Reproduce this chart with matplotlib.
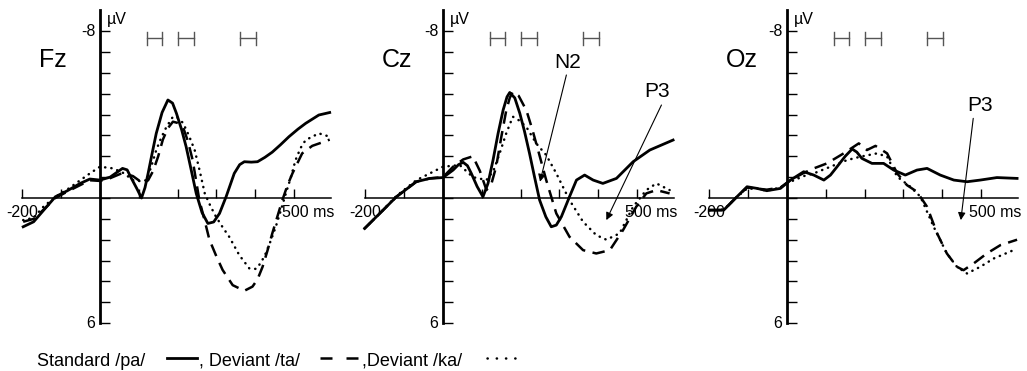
import matplotlib.pyplot as plt
from matplotlib.lines import Line2D

plt.rcParams['font.family'] = ['Liberation Sans', 'DejaVu Sans']

# ---- data (time in ms, amplitude in uV, negative up) ----
fz_std_t = [-198, -171, -145, -115, -85, -51, -26, 0, 26, 45, 58, 70, 81, 95, 107, 116, 124, 135, 145, 160,
            175, 187, 197, 210, 222, 235, 248, 263, 278, 293, 308, 325, 346, 360, 372, 390, 406, 425, 444,
            465, 487, 510, 530, 564, 592]
fz_std_v = [1.38, 1.14, 0.58, -0.06, -0.34, -0.70, -0.91, -0.86, -1.0, -1.25, -1.42, -1.35, -0.94, -0.45, 0.0,
            -0.5, -1.18, -2.2, -3.1, -4.1, -4.7, -4.55, -4.06, -3.3, -2.46, -1.35, -0.22, 0.7, 1.22, 1.15, 0.74,
            -0.06, -1.18, -1.6, -1.74, -1.72, -1.74, -1.95, -2.2, -2.55, -2.94, -3.3, -3.58, -3.98, -4.1]
fz_ta_t = [-198, -171, -145, -115, -85, -51, -26, 0, 26, 58, 85, 111, 124, 137, 150, 162, 175, 188, 200, 214,
           227, 239, 256, 270, 282, 300, 316, 342, 372, 393, 406, 419, 432, 444, 457, 470, 483, 496, 521, 547,
           570, 592]
fz_ta_v = [1.14, 1.0, 0.55, 0.0, -0.3, -0.62, -0.85, -0.82, -0.95, -1.2, -1.05, -0.7, -0.85, -1.3, -2.0, -2.8,
           -3.35, -3.66, -3.6, -3.4, -2.7, -1.8, 0.1, 1.1, 2.0, 2.8, 3.45, 4.18, 4.45, 4.25, 3.9, 3.3, 2.5, 1.7,
           0.9, 0.1, -0.6, -1.18, -2.14, -2.5, -2.65, -2.8]
fz_ka_t = [-198, -171, -145, -115, -85, -51, -26, 0, 34, 60, 85, 107, 120, 132, 145, 158, 171, 188, 200, 214,
           229, 244, 257, 270, 285, 299, 316, 333, 359, 385, 402, 415, 427, 440, 453, 466, 479, 492, 504, 517,
           530, 564, 592]
fz_ka_v = [1.06, 0.95, 0.4, -0.05, -0.4, -0.85, -1.18, -1.5, -1.42, -1.2, -0.86, -0.8, -0.86, -1.5, -2.3, -2.9,
           -3.4, -3.9, -3.85, -3.6, -3.0, -2.3, -1.3, -0.22, 0.4, 0.9, 1.4, 1.86, 2.74, 3.38, 3.4, 3.1, 2.66,
           2.05, 1.38, 0.6, -0.22, -1.0, -1.82, -2.4, -2.78, -3.1, -2.94]

cz_std_t = [-202, -163, -120, -69, -34, 0, 26, 40, 52, 63, 73, 88, 103, 116, 129, 142, 155, 165, 172, 185, 198,
            210, 223, 236, 249, 265, 279, 292, 305, 316, 326, 344, 365, 387, 412, 447, 490, 533, 593]
cz_std_v = [1.46, 0.74, -0.06, -0.78, -0.94, -0.98, -1.34, -1.6, -1.71, -1.55, -1.18, -0.55, -0.06, -0.7, -1.82,
            -3.1, -4.22, -4.85, -5.06, -4.8, -4.06, -3.2, -2.14, -1.0, 0.1, 0.9, 1.38, 1.3, 0.9, 0.4, -0.06,
            -0.86, -1.1, -0.86, -0.7, -0.94, -1.74, -2.3, -2.78]
cz_ta_t = [-202, -163, -120, -69, -34, 0, 26, 52, 77, 95, 112, 125, 137, 150, 163, 172, 180, 195, 215, 230, 245,
           266, 292, 326, 361, 395, 430, 464, 498, 524, 550, 584]
cz_ta_v = [1.46, 0.74, -0.06, -0.78, -0.94, -1.0, -1.5, -1.85, -2.0, -1.3, -0.38, -0.7, -1.5, -2.9, -4.2, -4.8,
           -5.1, -4.9, -4.2, -3.3, -2.3, -0.86, 0.74, 1.86, 2.5, 2.66, 2.5, 1.54, 0.42, -0.22, -0.38, -0.22]
cz_ka_t = [-202, -163, -120, -69, -34, 0, 43, 77, 112, 130, 146, 163, 180, 198, 215, 241, 266, 292, 310, 326,
           361, 395, 421, 455, 490, 524, 550, 584]
cz_ka_v = [1.46, 0.74, -0.1, -0.85, -1.18, -1.5, -1.58, -1.0, -0.86, -1.3, -2.14, -3.1, -3.9, -3.7, -3.4, -2.6,
           -2.06, -1.18, -0.5, 0.1, 1.14, 1.78, 2.0, 1.7, 0.42, -0.38, -0.7, -0.38]

oz_std_t = [-200, -163, -129, -103, -77, -52, -17, 9, 43, 69, 95, 112, 129, 150, 168, 180, 193, 219, 249, 275,
            305, 335, 361, 395, 430, 464, 498, 541, 593]
oz_std_v = [0.58, 0.58, -0.06, -0.54, -0.46, -0.35, -0.46, -0.86, -1.26, -1.1, -0.86, -1.1, -1.5, -2.0, -2.35,
            -2.2, -1.9, -1.66, -1.66, -1.34, -1.1, -1.34, -1.42, -1.1, -0.86, -0.78, -0.86, -0.98, -0.94]
oz_ta_t = [-200, -163, -129, -103, -77, -52, -17, 9, 43, 69, 103, 146, 185, 206, 228, 258, 284, 309, 335, 361,
           387, 412, 438, 455, 481, 515, 550, 593]
oz_ta_v = [0.58, 0.58, -0.06, -0.5, -0.45, -0.4, -0.5, -0.86, -1.2, -1.42, -1.66, -2.14, -2.62, -2.3, -2.5,
           -2.14, -1.18, -0.62, -0.3, 0.42, 1.7, 2.66, 3.3, 3.46, 3.14, 2.66, 2.26, 2.0]
oz_ka_t = [-200, -163, -129, -103, -77, -52, -17, 9, 43, 69, 112, 155, 189, 232, 258, 284, 318, 344, 378, 412,
           438, 464, 498, 533, 584]
oz_ka_v = [0.6, 0.55, -0.05, -0.45, -0.45, -0.35, -0.5, -0.78, -1.05, -1.18, -1.5, -1.82, -1.98, -2.14, -1.98,
           -1.02, -0.54, -0.06, 1.38, 2.66, 3.3, 3.62, 3.3, 2.9, 2.5]

electrodes = ['Fz', 'Cz', 'Oz']
sig_windows = [(120, 160), (200, 242), (360, 402)]
x_ticks = [-200, -100, 0, 100, 200, 300, 400, 500]
y_ticks = list(range(-8, 7))

W, H = 1027, 371
fig = plt.figure(figsize=(W / 100, H / 100), dpi=100)

ms_px = 0.388
zero_px = [100, 443, 787]
xlim = (-250, 610)
ylim = (6.81, -9.496)

panels = [
    (fz_std_t, fz_std_v, fz_ta_t, fz_ta_v, fz_ka_t, fz_ka_v),
    (cz_std_t, cz_std_v, cz_ta_t, cz_ta_v, cz_ka_t, cz_ka_v),
    (oz_std_t, oz_std_v, oz_ta_t, oz_ta_v, oz_ka_t, oz_ka_v),
]

dot_style = dict(color='black', lw=1.8, dashes=(0.1, 2.4), dash_capstyle='round')
dash_style = dict(color='black', lw=1.8, dashes=(5, 3))

axes = []
for name, zp, d in zip(electrodes, zero_px, panels):
    left = (zp + xlim[0] * ms_px) / W
    width = (xlim[1] - xlim[0]) * ms_px / W
    ax = fig.add_axes([left, 1 - 340 / H, width, 340 / H])
    ax.set_xlim(*xlim)
    ax.set_ylim(*ylim)
    ax.patch.set_alpha(0)
    axes.append(ax)

    st, sv, tt, tv, kt, kv = d
    ax.plot(kt, kv, **dot_style)
    ax.plot(tt, tv, **dash_style)
    ax.plot(st, sv, color='black', lw=2.0, solid_joinstyle='round')

    for s in ['top', 'right']:
        ax.spines[s].set_visible(False)
    ax.spines['left'].set_position(('data', 0))
    ax.spines['bottom'].set_position(('data', 0))
    ax.spines['left'].set_linewidth(2.0)
    ax.spines['bottom'].set_linewidth(1.1)
    ax.spines['left'].set_bounds(6, -9.0)
    ax.spines['bottom'].set_bounds(-200, 595)
    ax.set_xticks(x_ticks)
    ax.set_yticks(y_ticks)
    ax.tick_params(axis='x', direction='in', length=6.5, width=1.0, labelbottom=False)
    ax.tick_params(axis='y', direction='in', length=7, width=1.0, labelleft=False)

    ax.text(-157, -6.6, name, fontsize=18, ha='left', va='center')
    ax.text(-12, -8, '-8', fontsize=11.5, ha='right', va='center')
    ax.text(-12, 6, '6', fontsize=11.5, ha='right', va='center')
    ax.text(18, -8.55, 'µV', fontsize=11.5, ha='left', va='center')
    ax.text(-200, 0.7, '-200', fontsize=11.5, ha='center', va='center')
    ax.text(470, 0.7, '500 ms', fontsize=11.5, ha='left', va='center')

    for a, b in sig_windows:
        ax.plot([a, b], [-7.65, -7.65], color='#555555', lw=1.0)
        ax.plot([a, a], [-7.97, -7.33], color='#555555', lw=1.0)
        ax.plot([b, b], [-7.97, -7.33], color='#555555', lw=1.0)

arrow = dict(arrowstyle='-|>', lw=0.8, color='black', mutation_scale=11, shrinkA=0, shrinkB=0)
axes[1].text(320, -6.5, 'N2', fontsize=15, ha='center', va='center')
axes[1].annotate('', xy=(250, -0.78), xytext=(318, -5.9), arrowprops=arrow)
axes[1].text(552, -5.1, 'P3', fontsize=15, ha='center', va='center')
axes[1].annotate('', xy=(421, 1.06), xytext=(563, -4.46), arrowprops=arrow)
axes[2].text(497, -4.46, 'P3', fontsize=15, ha='center', va='center')
axes[2].annotate('', xy=(448, 1.06), xytext=(480, -3.82), arrowprops=arrow)

# legend line at the bottom
base = 1 - 366 / H
ly = 1 - 358 / H
fs = 13
fig.text(37 / W, base, 'Standard /pa/', fontsize=fs, va='baseline')
fig.add_artist(Line2D([167 / W, 197 / W], [ly, ly], color='black', lw=2.0))
fig.text(199 / W, base, ', Deviant /ta/', fontsize=fs, va='baseline')
fig.add_artist(Line2D([320 / W, 358 / W], [ly, ly], color='black', lw=1.8, dashes=(4.8, 5.6)))
fig.text(362 / W, base, ',Deviant /ka/', fontsize=fs, va='baseline')
fig.add_artist(Line2D([487 / W, 516 / W], [ly, ly], color='black', lw=1.8, dashes=(0.1, 3.6),
                      dash_capstyle='round'))

fig.savefig('out.png', dpi=100)
